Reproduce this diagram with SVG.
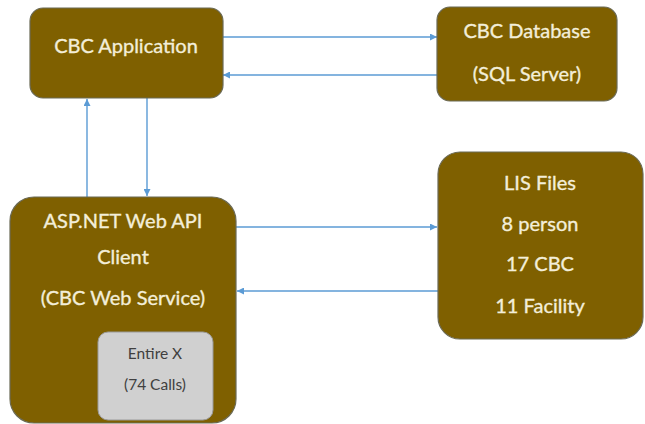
<svg xmlns="http://www.w3.org/2000/svg" width="645" height="424" viewBox="0 0 645 424">
<style>
.box{fill:#7F6000;stroke:#6b6a55;stroke-width:1.2}
.inner{fill:#D0D0D0;stroke:#9a9a9a;stroke-width:1}
.t{font-family:Lato,"Liberation Sans",Arial,sans-serif;font-size:20px;fill:#F3EED9;stroke:#F3EED9;stroke-width:0.35;text-anchor:middle}
.s{font-family:Lato,"Liberation Sans",Arial,sans-serif;font-size:15.5px;fill:#404040;text-anchor:middle}
.c{stroke:#5B9BD5;stroke-width:1.4;fill:none;marker-end:url(#ah)}
</style>
<defs>
<marker id="ah" viewBox="0 0 10 10" refX="10" refY="5" markerWidth="7" markerHeight="7" markerUnits="userSpaceOnUse" orient="auto">
<path d="M0,0 L10,5 L0,10 z" fill="#5B9BD5"/>
</marker>
</defs>
<rect width="645" height="424" fill="#ffffff"/>
<g id="connectors">
<line class="c" x1="223" y1="37" x2="437" y2="37"/>
<line class="c" x1="437" y1="75" x2="223" y2="75"/>
<line class="c" x1="147" y1="98" x2="147" y2="196"/>
<line class="c" x1="87" y1="197" x2="87" y2="99"/>
<line class="c" x1="236" y1="227" x2="437" y2="227"/>
<line class="c" x1="438" y1="291" x2="237" y2="291"/>
</g>
<g id="cbc-app">
<rect class="box" x="30" y="8" width="193" height="90" rx="13"/>
<text class="t" x="126" y="53">CBC Application</text>
</g>
<g id="cbc-db">
<rect class="box" x="437" y="7" width="180" height="94" rx="13"/>
<text class="t" x="527" y="38">CBC Database</text>
<text class="t" x="527" y="81">(SQL Server)</text>
</g>
<g id="lis">
<rect class="box" x="438" y="152" width="205" height="187" rx="22"/>
<text class="t" x="540" y="190">LIS Files</text>
<text class="t" x="540" y="231">8 person</text>
<text class="t" x="540" y="271">17 CBC</text>
<text class="t" x="540" y="313">11 Facility</text>
</g>
<g id="asp">
<rect class="box" x="10" y="197" width="226" height="226" rx="24"/>
<text class="t" x="123" y="228">ASP.NET Web API</text>
<text class="t" x="123" y="264">Client</text>
<text class="t" x="123" y="305">(CBC Web Service)</text>
</g>
<g id="entirex">
<rect class="inner" x="98" y="332" width="115" height="88" rx="10"/>
<text class="s" x="155" y="359">Entire X</text>
<text class="s" x="155" y="390">(74 Calls)</text>
</g>
</svg>
